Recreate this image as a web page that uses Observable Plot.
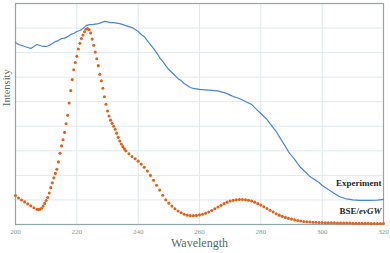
<!DOCTYPE html>
<html>
<head>
<meta charset="utf-8">
<script src="https://cdn.jsdelivr.net/npm/d3@7"></script>
<script src="https://cdn.jsdelivr.net/npm/@observablehq/plot@0.6"></script>
<style>
  html, body { margin: 0; padding: 0; background: #fff; }
  #chart { width: 390px; height: 253px; }
</style>
</head>
<body>
<div id="chart"></div>
<script>
// ---- Data ----
const xTicks = [200, 220, 240, 260, 280, 300, 320];
const seriesLabels = ["Experiment", "BSE/evGW"];
const axisLabels = ["Wavelength", "Intensity"];

// Experiment (blue line)
const expWavelength = [200,201,202,203,204,205,206,207,208,209,210,211,212,213,214,215,216,217,218,219,
  220,221,222,223,224,225,226,227,228,229,230,231,232,233,234,235,236,237,238,239,
  240,241,242,243,244,245,246,247,248,249,250,251,252,253,254,255,256,257,258,259,
  260,262,264,266,268,269,270,271,272,273,274,275,276,277,278,279,
  280,281,282,283,284,285,286,287,288,289,290,291,292,293,294,295,296,297,298,299,
  300,301,302,303,304,305,306,307,308,309,310,312,315,318,320];
const expIntensity = [7.41,7.33,7.29,7.25,7.21,7.17,7.25,7.33,7.29,7.25,7.25,7.29,7.37,7.45,7.49,7.57,7.59,7.65,7.74,7.78,
  7.86,7.90,7.98,8.10,8.14,8.14,8.16,8.18,8.22,8.27,8.25,8.22,8.22,8.20,8.18,8.14,8.10,8.06,8.02,7.94,
  7.86,7.74,7.65,7.49,7.33,7.17,7.00,6.80,6.64,6.47,6.31,6.19,6.07,5.94,5.86,5.74,5.66,5.58,5.54,5.52,
  5.50,5.48,5.46,5.44,5.37,5.33,5.27,5.21,5.17,5.13,5.07,5.01,4.95,4.89,4.76,4.64,
  4.52,4.40,4.28,4.11,3.95,3.79,3.58,3.38,3.18,2.97,2.81,2.65,2.48,2.32,2.20,2.08,1.95,1.87,1.79,1.71,
  1.59,1.51,1.43,1.34,1.26,1.18,1.12,1.08,1.04,1.02,1.00,0.98,0.98,0.99,1.02];

// BSE/evGW (orange dots): sample grid of the computed spectrum
const bseWavelength = [].concat(d3.range(200, 207, 1), d3.range(207, 236, 0.5), d3.range(236, 321, 1));
const bseIntensity = [
  1.18,1.08,1.00,0.92,0.84,0.76,0.68,
  0.62,0.61,0.62,0.66,0.75,0.86,0.98,1.10,1.28,1.50,1.70,1.90,2.08,2.25,2.55,2.90,3.20,3.45,3.75,4.10,
  4.45,4.95,5.45,5.90,6.30,6.60,6.85,7.15,7.38,7.57,7.72,7.85,7.95,7.98,7.93,7.80,7.55,7.30,7.02,6.75,
  6.47,6.12,5.85,5.55,5.20,4.90,4.62,4.42,4.25,4.12,4.00,3.88,3.72,3.55,3.40,3.28,3.17,3.08,
  3.00,2.88,2.77,2.68,2.58,2.46,2.33,2.18,2.00,1.80,1.60,1.40,1.19,1.01,0.87,0.75,0.64,0.55,0.48,0.42,
  0.38,0.36,0.36,0.37,0.39,0.42,0.46,0.51,0.57,0.64,0.71,0.78,0.85,0.91,0.96,0.99,1.01,1.02,1.02,1.01,
  0.99,0.96,0.91,0.85,0.79,0.72,0.65,0.58,0.51,0.44,0.38,0.33,0.29,0.25,0.22,0.19,0.16,0.14,0.12,0.11,
  0.10,0.09,0.09,0.08,0.08,0.07,0.07,0.07,0.07,0.06,0.06,0.06,0.06,0.06,0.05,0.05,0.05,0.05,0.05,0.05,
  0.04,0.04,0.04,0.04,0.04];

const exp = expWavelength.map((w, i) => ({w, v: expIntensity[i]}));
const bse = bseWavelength.map((w, i) => ({w, v: bseIntensity[i]}));

const blue = "#4a86d6";
const orange = "#e2621d";
const serif = "'Liberation Serif', 'DejaVu Serif', serif";

const chart = Plot.plot({
  width: 390,
  height: 253,
  marginLeft: 15,
  marginRight: 7,
  marginTop: 3,
  marginBottom: 29,
  style: {fontFamily: serif, background: "#fff"},
  x: {domain: [200, 320]},
  y: {domain: [0, 9], axis: null},
  marks: [
    Plot.gridX([220, 240, 260, 280, 300], {stroke: "#dfe9ec", strokeOpacity: 1}),
    Plot.gridY(d3.range(1, 9), {stroke: "#dfe9ec", strokeOpacity: 1}),
    Plot.frame({stroke: "#93a5a5", strokeWidth: 1.2}),
    Plot.axisX(xTicks, {tickSize: 0, tickPadding: 5, fontSize: 7, color: "#7f9999", label: null}),
    Plot.line(exp, {x: "w", y: "v", stroke: blue, strokeWidth: 1.2}),
    Plot.dot(bse, {x: "w", y: "v", r: 1.55, fill: orange, stroke: null}),
    Plot.text([seriesLabels[0]], {frameAnchor: "bottom-right", dx: -2, dy: -39, text: d => d,
      textAnchor: "end", fontWeight: "bold", fontSize: 9, fill: "#1c2a2a"}),
    Plot.text([seriesLabels[1]], {frameAnchor: "bottom-right", dx: -2, dy: -11, text: d => d,
      textAnchor: "end", fontWeight: "bold", fontSize: 9, fill: "#1c2a2a"}),
    Plot.text([axisLabels[0]], {frameAnchor: "bottom", dy: 22.5, text: d => d, fontSize: 12, fill: "#4f6b6b"}),
    Plot.text([axisLabels[1]], {frameAnchor: "left", dx: -9, dy: -8, rotate: -90, text: d => d, fontSize: 10.5, fill: "#4f6b6b"})
  ]
});

// italicise the "evGW" part of the method label
chart.querySelectorAll("text").forEach(t => {
  if (t.textContent === "BSE/evGW") {
    t.textContent = "";
    const ns = "http://www.w3.org/2000/svg";
    const a = document.createElementNS(ns, "tspan"); a.textContent = "BSE/";
    const b = document.createElementNS(ns, "tspan"); b.textContent = "ev"; b.setAttribute("font-style", "italic");
    const c = document.createElementNS(ns, "tspan"); c.textContent = "GW"; c.setAttribute("font-style", "italic");
    t.append(a, b, c);
  }
});

document.getElementById("chart").appendChild(chart);
</script>
</body>
</html>
